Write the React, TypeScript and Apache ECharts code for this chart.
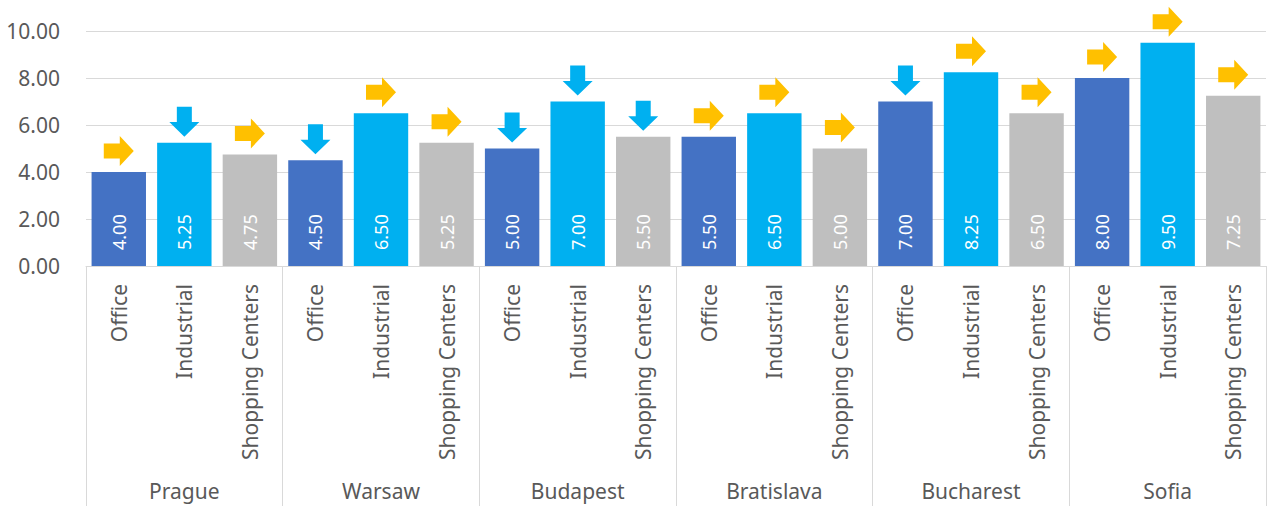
import React, { useEffect, useRef } from "react";
import * as echarts from "echarts";

const cities = ["Prague", "Warsaw", "Budapest", "Bratislava", "Bucharest", "Sofia"];
const sectors = ["Office", "Industrial", "Shopping Centers"];
const sectorColors = ["#4472C4", "#00B0F0", "#BFBFBF"];
const yields = [
  4.0, 5.25, 4.75,
  4.5, 6.5, 5.25,
  5.0, 7.0, 5.5,
  5.5, 6.5, 5.0,
  7.0, 8.25, 6.5,
  8.0, 9.5, 7.25,
];
const trends = [
  "right", "down", "right",
  "down", "right", "right",
  "down", "down", "down",
  "right", "right", "right",
  "down", "right", "right",
  "right", "right", "right",
];
const yMin = 0;
const yMax = 10;
const yStep = 2;

const RIGHT_ARROW = "path://M0,7.5L16,7.5L16,0L30,15L16,30L16,22.5L0,22.5Z";
const DOWN_ARROW = "path://M7.5,0L22.5,0L22.5,15.5L30,15.5L15,30L0,15.5L7.5,15.5Z";
const trendColors: Record<string, string> = { right: "#FFC000", down: "#00B0F0" };

const FONT = "Noto Sans";

export default function App() {
  const ref = useRef<HTMLDivElement>(null);
  useEffect(() => {
    document.body.style.margin = "0";
    const chart = echarts.init(ref.current!, undefined, { renderer: "svg" });
    const categories: string[] = [];
    cities.forEach(() => sectors.forEach((s) => categories.push(s)));
    const barData = yields.map((v, i) => ({
      value: v,
      itemStyle: { color: sectorColors[i % 3] },
    }));
    const arrowData = yields.map((v, i) => ({
      value: v,
      symbol: trends[i] === "right" ? RIGHT_ARROW : DOWN_ARROW,
      itemStyle: { color: trendColors[trends[i]], opacity: 1 },
    }));
    chart.setOption({
      animation: false,
      textStyle: { fontFamily: FONT },
      grid: { left: 86, right: 7, top: 31, bottom: 240, containLabel: false },
      xAxis: [
        {
          type: "category",
          data: categories,
          position: "bottom",
          axisLine: { show: true, lineStyle: { color: "#D9D9D9", width: 1 } },
          axisTick: { show: false },
          axisLabel: {
            interval: 0,
            rotate: 90,
            margin: 18,
            fontSize: 21,
            color: "#595959",
            fontFamily: FONT,
          },
        },
        {
          type: "category",
          data: cities,
          position: "bottom",
          axisLine: { show: false },
          axisTick: { show: true, length: 240, lineStyle: { color: "#D9D9D9", width: 1 } },
          axisLabel: {
            interval: 0,
            margin: 214,
            fontSize: 21,
            lineHeight: 22,
            color: "#595959",
            fontFamily: FONT,
          },
        },
      ],
      yAxis: {
        type: "value",
        min: yMin,
        max: yMax,
        interval: yStep,
        axisLine: { show: false },
        axisTick: { show: false },
        splitLine: { lineStyle: { color: "#D9D9D9", width: 1 } },
        axisLabel: {
          margin: 26,
          fontSize: 21,
          color: "#595959",
          fontFamily: FONT,
          formatter: (v: number) => v.toFixed(2),
        },
      },
      series: [
        {
          type: "bar",
          xAxisIndex: 0,
          data: barData,
          barCategoryGap: "17%",
          label: {
            show: true,
            position: "insideBottom",
            distance: 16,
            rotate: 90,
            align: "left",
            verticalAlign: "middle",
            color: "#FFFFFF",
            fontSize: 18,
            fontFamily: FONT,
            formatter: (p: any) => Number(p.value).toFixed(2),
          },
        },
        {
          type: "scatter",
          xAxisIndex: 0,
          data: arrowData,
          symbolSize: 30,
          symbolOffset: [0, -21],
          z: 5,
          silent: true,
        },
      ],
    });
    return () => chart.dispose();
  }, []);
  return <div ref={ref} style={{ width: 1273, height: 506 }} />;
}
